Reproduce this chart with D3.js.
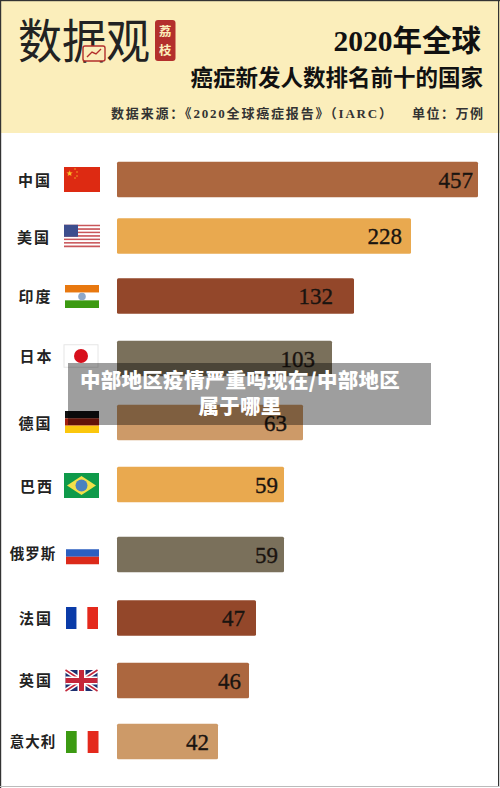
<!DOCTYPE html>
<html><head><meta charset="utf-8">
<script src="https://cdn.jsdelivr.net/npm/d3@7"></script>
<style>html,body{margin:0;padding:0;background:#fff}svg{display:block}</style>
</head><body><svg id="c" width="500" height="788"></svg>
<script>
const categories=["中国","美国","印度","日本","德国","巴西","俄罗斯","法国","英国","意大利"];
const values=[457,228,132,103,63,59,59,47,46,42];
const barColors=["#ac673f","#e9a94f","#93472a","#7a705b","#cd9a68","#e9a94f","#7a705b","#93472a","#ac673f","#cd9a68"];
const flags=["cn","us","in","jp","de","br","ru","fr","gb","it"];
const titleLines=["2020年全球","癌症新发人数排名前十的国家"];
const sourceLeft="数据来源：《2020全球癌症报告》（IARC）";
const sourceRight="单位：万例";
const overlayLines=["中部地区疫情严重吗现在/中部地区","属于哪里"];

const svg=d3.select("#c");
const serif='"Liberation Serif","Noto Sans CJK SC",serif';
const cjk='"Noto Sans CJK SC",serif';
svg.append("rect").attr("width",500).attr("height",788).attr("fill","#fff");
svg.append("rect").attr("width",500).attr("height",133).attr("fill","#fbeebb");

// logo
svg.append("text").attr("x",18).attr("y",58).attr("font-family",cjk).attr("font-weight",400).attr("font-size",47).attr("textLength",132).attr("lengthAdjust","spacingAndGlyphs").attr("fill","#222").text("数据观");
svg.append("rect").attr("x",83).attr("y",46).attr("width",22).attr("height",15).attr("rx",2).attr("fill","#fbeebb").attr("stroke","#b32f2c").attr("stroke-width",1.4);
svg.append("path").attr("d",d3.line()([[87,57],[92,52],[96,54],[101,49]])).attr("fill","none").attr("stroke","#b32f2c").attr("stroke-width",1.4);
svg.append("rect").attr("x",155).attr("y",20).attr("width",20.5).attr("height",41).attr("rx",3).attr("fill","#b32f2c");
["荔","枝"].forEach((t,i)=>svg.append("text").attr("x",165.2).attr("y",36+i*18.5).attr("text-anchor","middle").attr("font-family",cjk).attr("font-weight",700).attr("font-size",12.5).attr("fill","#fbeebb").text(t));

// header
svg.append("text").attr("x",481).attr("y",51).attr("text-anchor","end").attr("font-family",serif).attr("font-weight",700).attr("font-size",29.5).attr("fill","#111").text(titleLines[0]);
svg.append("text").attr("x",483).attr("y",85.5).attr("text-anchor","end").attr("font-family",cjk).attr("font-weight",700).attr("font-size",22.5).attr("fill","#111").text(titleLines[1]);
svg.append("text").attr("x",111).attr("y",117.5).attr("font-family",serif).attr("font-weight",700).attr("font-size",13).attr("textLength",281).attr("fill","#333").text(sourceLeft);
svg.append("text").attr("x",412).attr("y",117.5).attr("font-family",serif).attr("font-weight",700).attr("font-size",13).attr("textLength",71).attr("fill","#333").text(sourceRight);

// scales: the source's bars are not proportional, so the value scale follows its drawn lengths
const x=d3.scaleLinear().domain([42,46,47,59,63,103,132,228,457]).range([101,132,139,167,186,215,237,294,361]);
const y=d3.scaleLinear().domain(d3.range(10)).range([179.5,236,296,358.5,422.5,484.5,554.5,618,680.5,741.5]);
const barX=117,barH=35.5;
const labelX=[35,34,35.5,36.5,35.5,37,33,36,36,33];
const labelDy=[1,1,0,-2,1,2,-1,0,0,0];
const valueInset=[5,9,21,17,16,6,6,11,8,9];
const flagBox={cn:[64,36,25,0],us:[64,36,22.5,0],in:[65,34,23,.5],jp:[64,34,22.5,-2.5],de:[65,34,22,-.5],br:[64,35,25,1],ru:[66,33,22.5,-1.5],fr:[66,32,22,0],gb:[65.5,32,21,0],it:[66,32.5,22,.5]};

const rows=svg.append("g").selectAll("g").data(categories).join("g").attr("transform",(d,i)=>`translate(0,${y(i)})`);
rows.append("text").attr("x",(d,i)=>labelX[i]).attr("y",(d,i)=>5.5+labelDy[i]).attr("text-anchor","middle")
 .attr("font-family",serif).attr("font-weight",700).attr("font-size",d=>d.length===3?14.5:15).attr("letter-spacing",d=>d.length===3?1:2).attr("fill","#222").text(d=>d);
rows.append("rect").attr("x",barX).attr("y",-barH/2).attr("height",barH).attr("rx",1.5)
 .attr("width",(d,i)=>x(values[i])).attr("fill",(d,i)=>barColors[i]);
rows.append("text").attr("x",(d,i)=>barX+x(values[i])-valueInset[i]).attr("y",8).attr("text-anchor","end")
 .attr("font-family",serif).attr("font-size",23).attr("font-weight",400).attr("stroke","#1a1410").attr("stroke-width",.35).attr("fill","#1a1410").text((d,i)=>values[i]);

function flag(g,code){
 const [X,W,H,dy]=flagBox[code],T=-H/2+dy,M=T+H/2,C=X+W/2;
 const r=(x,y,w,h,f)=>g.append("rect").attr("x",x).attr("y",y).attr("width",w).attr("height",h).attr("fill",f);
 const v=(cols)=>cols.forEach((c,i)=>r(X+i*W/3,T,W/3,H,c));
 const h=(cols)=>cols.forEach((c,i)=>r(X,T+i*H/3,W,H/3,c));
 if(code==="cn"){r(X,T,W,H,"#dd2a12");g.append("text").attr("x",X+2).attr("y",T+9).attr("font-size",8).attr("fill","#f8c22c").text("★");
  [[11,2],[13,5],[13,9],[11,11]].forEach(p=>g.append("circle").attr("cx",X+p[0]).attr("cy",T+p[1]).attr("r",.7).attr("fill","#f8c22c"));}
 if(code==="us"){d3.range(13).forEach(i=>r(X,T+i*H/13,W,H/13,i%2?"#fff":"#c9565a"));r(X,T,14,12,"#3d4e8e");}
 if(code==="in"){h(["#e8780f","#fff","#3c9a12"]);g.append("circle").attr("cx",C).attr("cy",M).attr("r",3.8).attr("fill","#8fa8c8");}
 if(code==="jp"){g.append("rect").attr("x",X).attr("y",T).attr("width",W).attr("height",H).attr("fill","#fff").attr("stroke","#e6e6e6");g.append("circle").attr("cx",C).attr("cy",M).attr("r",7).attr("fill","#d70f1c");}
 if(code==="de")h(["#111","#a1200e","#fbc70d"]);
 if(code==="br"){r(X,T,W,H,"#0f9a4a");g.append("path").attr("d",`M${X+3},${M}L${C},${T+3}L${X+W-3},${M}L${C},${T+H-3}Z`).attr("fill","#f2e04a");g.append("circle").attr("cx",C).attr("cy",M).attr("r",6).attr("fill","#4a82c0");}
 if(code==="ru")h(["#fff","#2c5fc0","#dc2a1a"]);
 if(code==="fr")v(["#0a3ba8","#fff","#e4291c"]);
 if(code==="it")v(["#3c9a12","#fff","#e4291c"]);
 if(code==="gb"){r(X,T,W,H,"#1d2f6f");const B=T+H;
  g.append("path").attr("d",`M${X},${T}L${X+W},${B}M${X+W},${T}L${X},${B}`).attr("stroke","#fff").attr("stroke-width",4.5);
  g.append("path").attr("d",`M${X},${T}L${X+W},${B}M${X+W},${T}L${X},${B}`).attr("stroke","#c4263a").attr("stroke-width",1.5);
  r(C-4,T,8,H,"#fff");r(X,M-4,W,8,"#fff");r(C-2.5,T,5,H,"#c4263a");r(X,M-2.5,W,5,"#c4263a");}
}
rows.each(function(d,i){flag(d3.select(this).append("g"),flags[i]);});

// overlay banner
svg.append("rect").attr("x",68).attr("y",363).attr("width",363).attr("height",62).attr("fill","#000").attr("fill-opacity",.38);
overlayLines.forEach((t,i)=>svg.append("text").attr("x",240).attr("y",388+i*25.5).attr("text-anchor","middle")
 .attr("font-family",cjk).attr("font-weight",900).attr("font-size",20.5).attr("letter-spacing",.3).attr("fill","#fff").text(t));

// frame
svg.append("rect").attr("width",500).attr("height",1.2).attr("fill","#333");
svg.append("rect").attr("width",1.2).attr("height",788).attr("fill","#333");
svg.append("rect").attr("x",498).attr("width",1.2).attr("height",787).attr("fill","#333");
svg.append("rect").attr("y",786).attr("width",499).attr("height",1).attr("fill","#bbb");
</script></body></html>
